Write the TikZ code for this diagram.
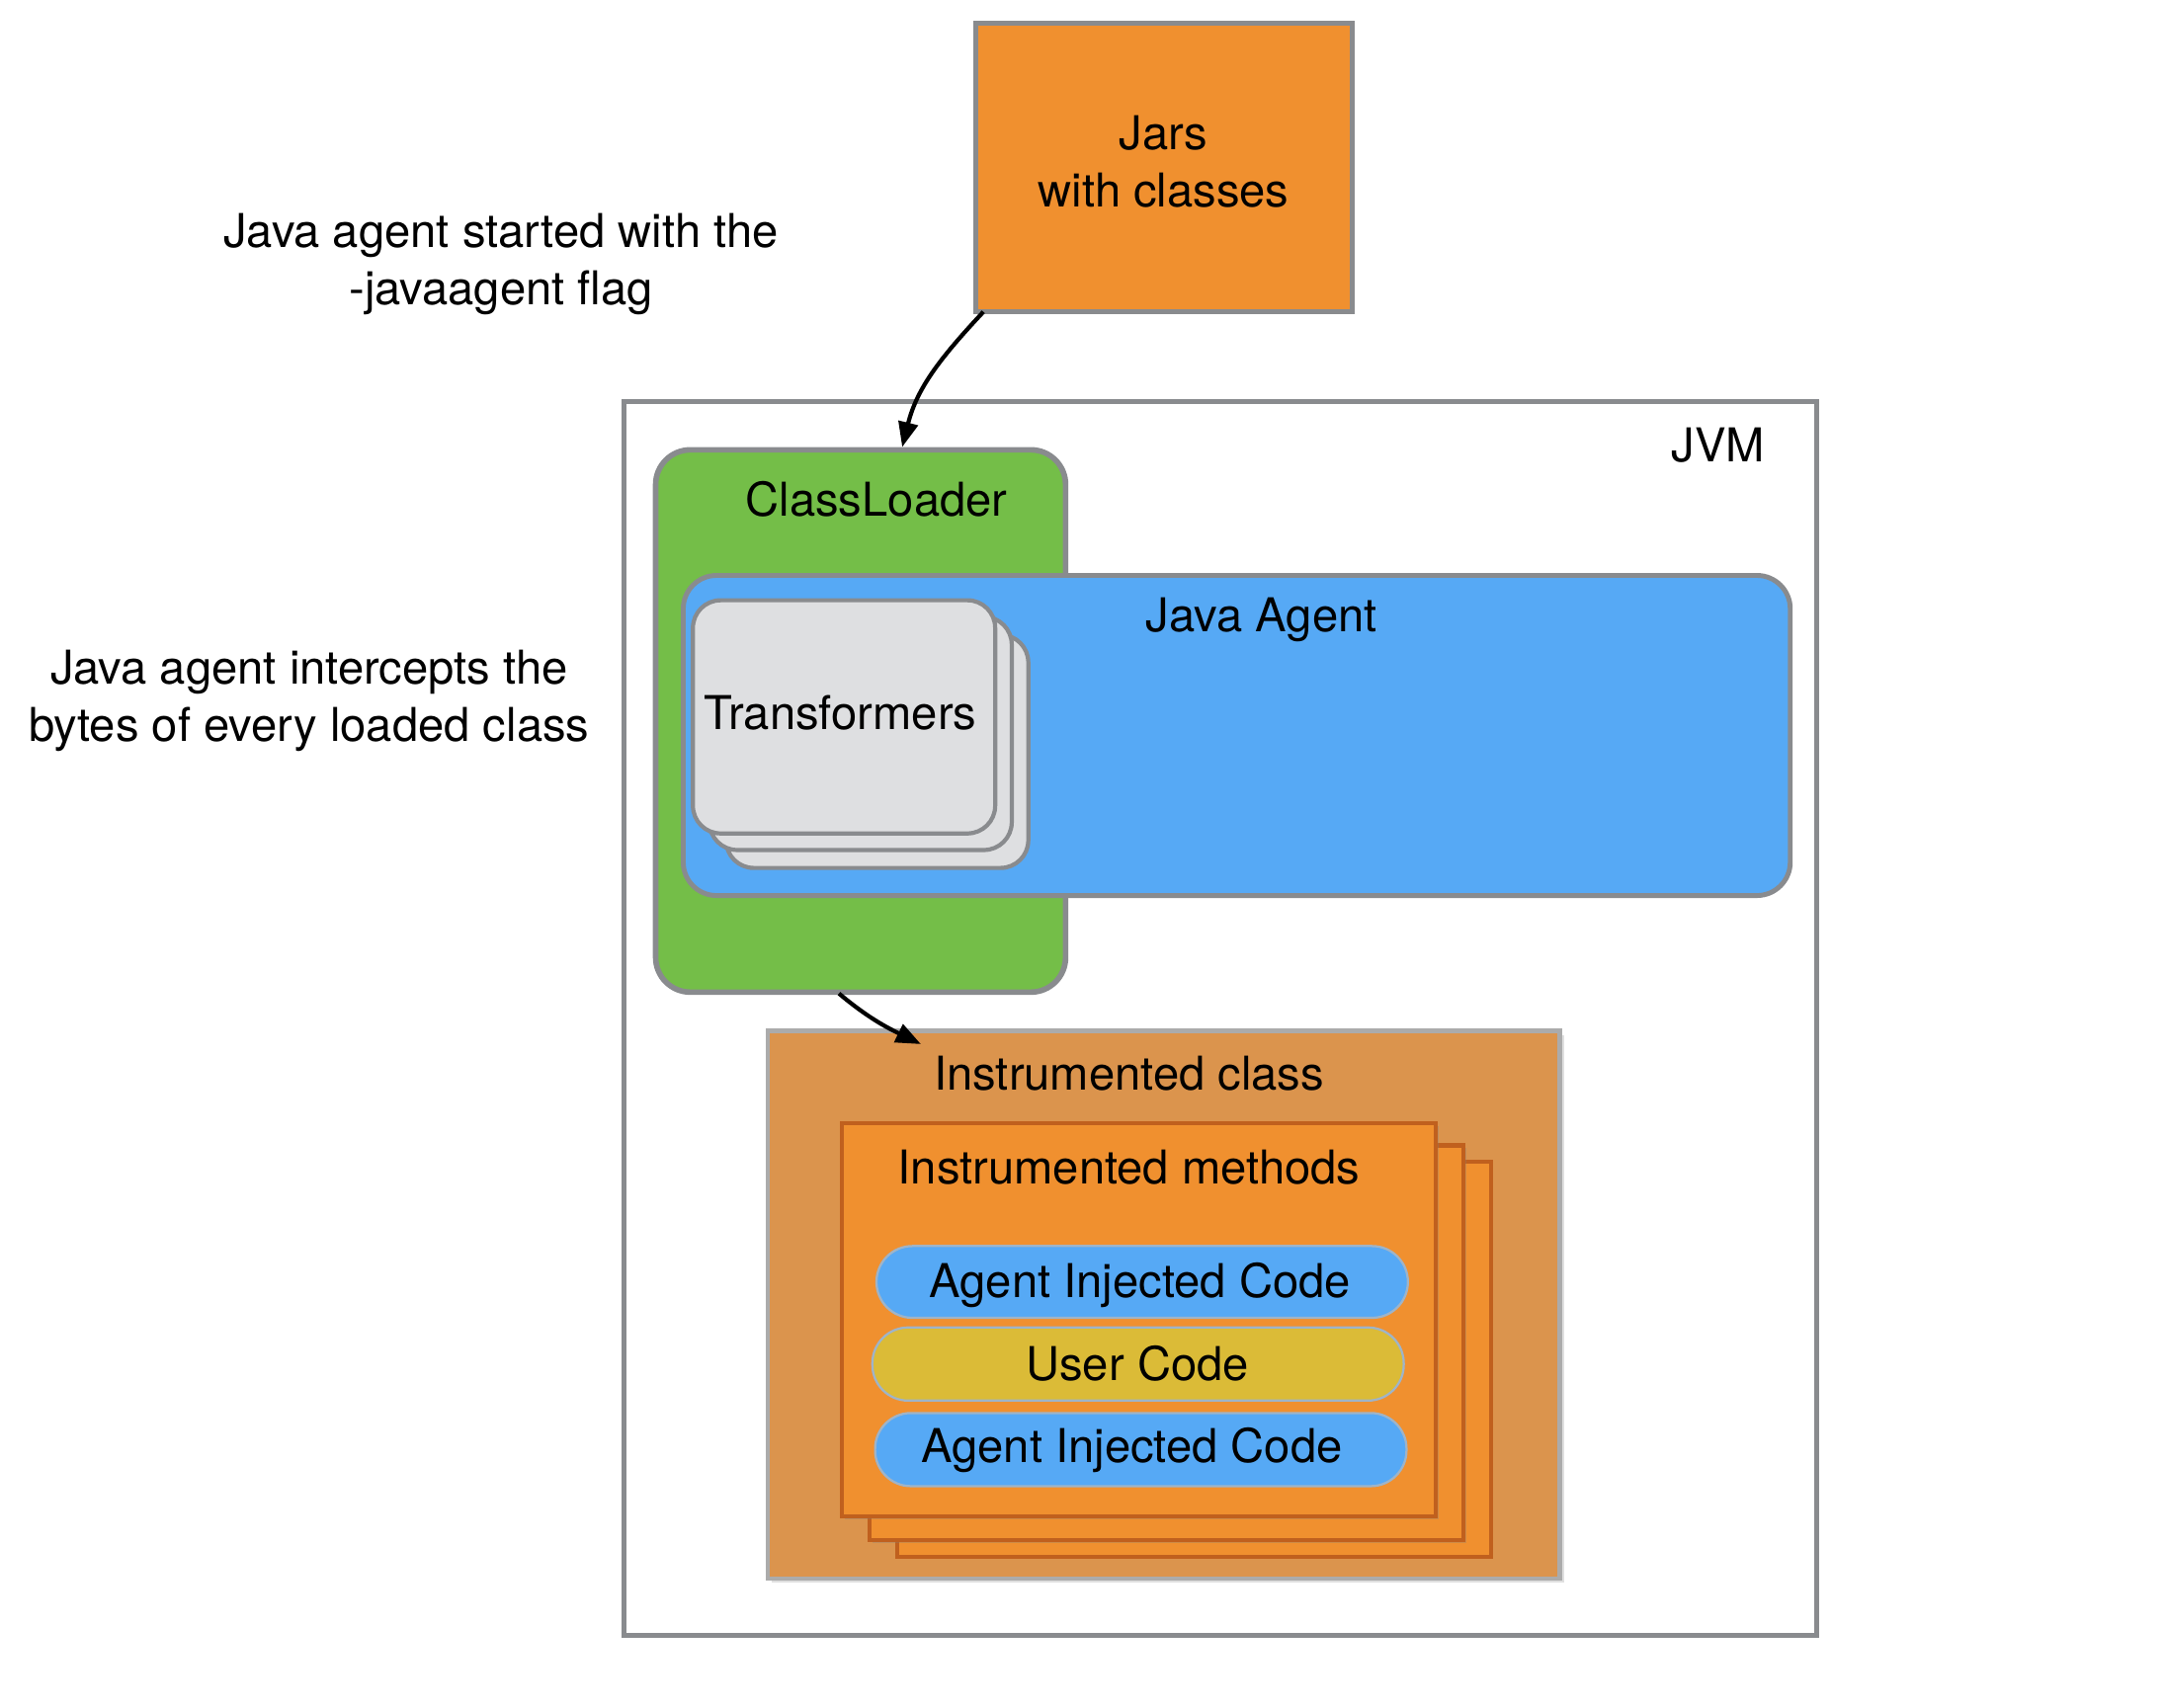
\documentclass[tikz,border=0pt]{standalone}
\usepackage{fontspec}
\setmainfont{TeX Gyre Heros}
\usetikzlibrary{arrows.meta,fit,shadows}
\definecolor{jorange}{HTML}{F0902F}
\definecolor{bgray}{HTML}{898B8E}
\definecolor{cgreen}{HTML}{74BE48}
\definecolor{ablue}{HTML}{56A9F5}
\definecolor{tgray}{HTML}{DEDFE1}
\definecolor{icol}{HTML}{DB944D}
\definecolor{icborder}{HTML}{ABABAB}
\definecolor{mborder}{HTML}{C0601E}
\definecolor{ucol}{HTML}{DBBB37}
\definecolor{pillborder}{HTML}{9FB4C8}
\begin{document}
\begin{tikzpicture}[x=0.4975pt,y=0.4975pt,
  every node/.style={font=\fontsize{16.8}{20.5}\selectfont, inner sep=0pt, outer sep=0pt, text=black},
  box/.style={draw=bgray, line width=1.75pt},
  lbl/.style={anchor=base},
  mlbl/.style={align=center},
  trf/.style={draw=bgray, fill=tgray, line width=1.5pt, rounded corners=10pt},
  meth/.style={draw=mborder, fill=jorange, line width=1.5pt,
    drop shadow={shadow xshift=1pt, shadow yshift=-1pt, opacity=0.3}},
  pill/.style={draw=pillborder, line width=0.8pt, rounded corners=12.9pt},
  conn/.style={-{Triangle[length=9pt,width=7pt]}, line width=1.5pt, draw=black},
]
\useasboundingbox (0,0) rectangle (1567.8,-1237.1);
\fill[white] (0,0) rectangle (1567.8,-1237.1);

% Jars
\node[box, fill=jorange, fit={(707,-17) (980,-226)}] (jars) {};
\node[mlbl] (jarslbl) at (843,-117) {Jars\\with classes};

% side labels
\node[mlbl] (startlbl) at (363,-191.5) {Java agent started with the\\-javaagent flag};
\node[mlbl] (interlbl) at (224,-508) {Java agent intercepts the\\bytes of every loaded class};

% JVM
\node[box, fill=white, fit={(452,-291) (1316,-1185)}] (jvm) {};
\node[lbl] (jvmlbl) at (1245,-335) {JVM};

% ClassLoader
\node[draw=bgray, fill=cgreen, line width=2pt, rounded corners=12.5pt, fit={(475,-326) (772,-719)}] (cl) {};
\node[lbl] (cllbl) at (635,-374) {ClassLoader};

% Java Agent
\node[draw=bgray, fill=ablue, line width=1.75pt, rounded corners=12pt, fit={(495,-417) (1297,-649)}] (agent) {};
\node[lbl] (agentlbl) at (914,-458) {Java Agent};

% Transformers stack
\node[trf, fit={(526,-460) (745,-629)}] (trf3) {};
\node[trf, fit={(514,-447) (733,-616)}] (trf2) {};
\node[trf, fit={(502,-435) (721,-604)}] (trf1) {};
\node[lbl] (trflbl) at (609,-529) {Transformers};

% Instrumented class
\node[draw=icborder, fill=icol, line width=1.5pt,
  drop shadow={shadow xshift=1.5pt, shadow yshift=-1.5pt, opacity=0.25},
  fit={(556,-747) (1130,-1144)}] (ic) {};
\node[lbl] (iclbl) at (818,-790) {Instrumented class};

% Instrumented methods stack
\node[meth, fit={(650,-842) (1080,-1128)}] (m3) {};
\node[meth, fit={(630,-830) (1060,-1116)}] (m2) {};
\node[meth, fit={(610,-814) (1040,-1099)}] (m1) {};
\node[lbl] (mlbl) at (818,-858) {Instrumented methods};

% code pills
\node[pill, fill=ablue, fit={(635,-903) (1020,-955)}] (aic1) {};
\node[lbl] (aic1lbl) at (826,-940) {Agent Injected Code};
\node[pill, fill=ucol, fit={(632,-962) (1017,-1015)}] (uc) {};
\node[lbl] (uclbl) at (824,-1000.5) {User Code};
\node[pill, fill=ablue, fit={(634,-1024) (1019,-1077)}] (aic2) {};
\node[lbl] (aic2lbl) at (820,-1060) {Agent Injected Code};

% connectors
\draw[conn] ([xshift=2.7pt]jars.south west) to[out=-133,in=76] ([xshift=15pt,yshift=1pt]cl.north);
\draw[conn] ([xshift=-7.8pt,yshift=-0.5pt]cl.south) to[out=-40,in=154] ([xshift=55.3pt,yshift=-4.8pt]ic.north west);
\end{tikzpicture}
\end{document}
